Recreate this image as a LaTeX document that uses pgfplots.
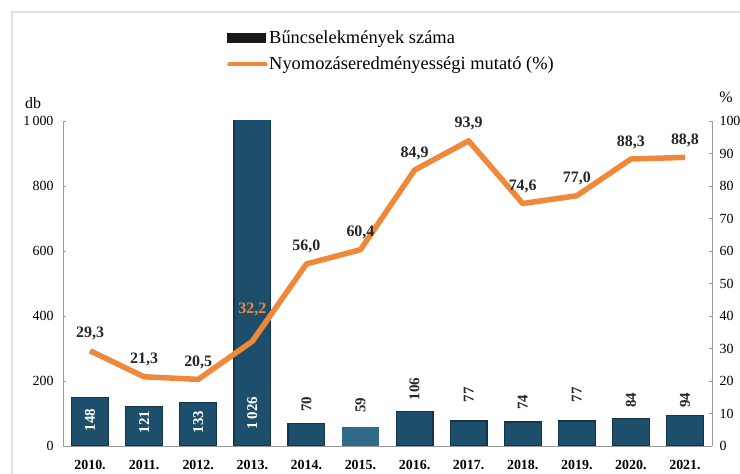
\documentclass[border=0pt]{standalone}
\usepackage{pgfplots}
\pgfplotsset{compat=1.18}
\usepackage{fontspec}
\setmainfont{Liberation Serif}
\definecolor{barc}{HTML}{1D4F6C}
\definecolor{bard}{HTML}{12354C}
\definecolor{barl}{HTML}{2F6B87}
\definecolor{lineor}{HTML}{F0883A}
\definecolor{axgray}{HTML}{9A9A9A}
\begin{document}
\begin{tikzpicture}[x=1bp,y=1bp]
\useasboundingbox (0,0) rectangle (740,474);
\fill[white] (0,0) rectangle (740,474);
\draw[black!12, line width=1.5bp] (12,0) |- (740,462);
\begin{axis}[
  at={(63bp,28bp)}, anchor=south west,
  scale only axis, width=649bp, height=325bp,
  xmin=-0.5, xmax=11.5, ymin=0, ymax=1000,
  axis y line*=left, axis x line*=bottom,
  axis line style={axgray, line width=0.8bp, -},
  xtick={0,...,11},
  xticklabels={2010.,2011.,2012.,2013.,2014.,2015.,2016.,2017.,2018.,2019.,2020.,2021.},
  x tick label style={font=\fontsize{14}{16}\selectfont\bfseries, yshift=-11bp},
  x tick style={draw=none},
  ytick={0,200,...,1000}, yticklabels={0,200,400,600,800,1\,000},
  y tick label style={font=\fontsize{14}{16}\selectfont, xshift=-6bp},
  /pgf/number format/assume math mode=true,
  tick align=inside, major tick length=3bp, y tick style={axgray},
  clip=true,
]
\addplot[ybar, bar width=0.68, bar shift=0pt, fill=barc, draw=bard, line width=1.2bp]
  coordinates {(0,148) (1,121) (2,133) (3,1026) (4,70) (6,106) (7,77) (8,74) (9,77) (10,84) (11,94)};
\addplot[ybar, bar width=0.68, bar shift=0pt, fill=barl, draw=none]
  coordinates {(5,59)};
% labels inside bars
\addplot[draw=none, mark=none, forget plot, nodes near coords, point meta=explicit symbolic,
  nodes near coords style={rotate=90, anchor=center, text=white, font=\fontsize{15}{17}\selectfont\bfseries}]
  coordinates {(0,80)[148] (1,74)[121] (2,74)[133] (3,101)[1\,026]};
% labels above bars
\addplot[draw=none, mark=none, forget plot, nodes near coords, point meta=explicit symbolic,
  nodes near coords style={rotate=90, anchor=center, text=black!85, font=\fontsize{15}{17}\selectfont\bfseries}]
  coordinates {(4,129)[70] (5,126)[59] (6,175)[106] (7,157)[77] (8,135)[74] (9,157)[77] (10,141)[84] (11,141)[94]};
\end{axis}
\begin{axis}[
  at={(63bp,28bp)}, anchor=south west,
  scale only axis, width=649bp, height=325bp,
  xmin=-0.5, xmax=11.5, ymin=0, ymax=100,
  axis y line*=right, axis x line=none,
  axis line style={axgray, line width=0.8bp, -},
  ytick={0,10,...,100},
  y tick label style={font=\fontsize{14}{16}\selectfont, xshift=4bp},
  /pgf/number format/assume math mode=true,
  tick align=inside, major tick length=3bp, y tick style={axgray},
  legend style={at={(0.2527,1.283)}, anchor=north west, draw=none, fill=none,
    font=\fontsize{18.5}{20}\selectfont, row sep=9bp, inner sep=0pt,
    nodes={inner sep=1.5bp}},
  legend cell align=left,
]
\addlegendimage{legend image code/.code={\fill[black!90] (0bp,-4.5bp) rectangle (38bp,4.5bp);}}
\addlegendentry{Bűncselekmények száma}
\addplot[lineor, line width=5.5bp, line join=round, mark=none,
  legend image code/.code={\draw[lineor, line width=4.5bp, line cap=round] (2bp,0bp) -- (38bp,0bp);}]
  coordinates {(0,29.3) (1,21.3) (2,20.5) (3,32.2) (4,56.0) (5,60.4) (6,84.9) (7,93.9) (8,74.6) (9,77.0) (10,88.3) (11,88.8)};
\addlegendentry{Nyomozáseredményességi mutató (\%)}
\addplot[draw=none, mark=none, forget plot, nodes near coords, point meta=explicit symbolic,
  nodes near coords style={anchor=base, yshift=13bp, text=black!85, font=\fontsize{16}{18}\selectfont\bfseries}]
  coordinates {(0,29.3)[29,3] (1,21.3)[21,3] (2,20.5)[20,5] (4,56.0)[56,0] (5,60.4)[60,4] (6,84.9)[84,9] (7,93.9)[93,9] (8,74.6)[74,6] (9,77.0)[77,0] (10,88.3)[88,3] (11,88.8)[88,8]};
\addplot[draw=none, mark=none, forget plot, nodes near coords, point meta=explicit symbolic,
  nodes near coords style={anchor=base, yshift=28bp, text=lineor, font=\fontsize{16}{18}\selectfont\bfseries}]
  coordinates {(3,32.2)[32,2]};
\end{axis}
\node[font=\fontsize{16}{18}\selectfont] at (33,371) {db};
\node[font=\fontsize{16}{18}\selectfont] at (726,377) {\%};
\end{tikzpicture}
\end{document}
